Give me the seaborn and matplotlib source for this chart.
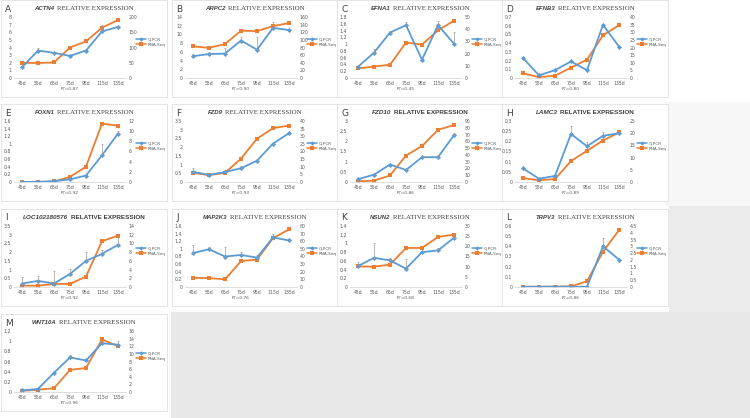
import numpy as np
import matplotlib
matplotlib.use("Agg")
import matplotlib.pyplot as plt
from matplotlib.lines import Line2D
from matplotlib.patches import Rectangle
import seaborn as sns

sns.set_style("white")
plt.rcParams["font.family"] = ["DejaVu Sans"]

days = ["45d", "55d", "65d", "75d", "95d", "115d", "135d"]
letters = list("ABCDEFGHIJKLM")
genes = ["ACTN4", "ARPC2", "EFNA1", "EFNB3", "FOXN1", "FZD9", "FZD10",
         "LAMC3", "LOC102180576", "MAP2K3", "NSUN2", "TRPV3", "WNT10A"]
r2_values = [0.87, 0.90, 0.45, 0.80, 0.92, 0.93, 0.86, 0.89, 0.92, 0.76, 0.68, 0.86, 0.96]
# sans bold titles (G, H, I), the rest use a serif for "RELATIVE EXPRESSION"
bold_titles = [False, False, False, False, False, False, True, True, True, False, False, False, False]

# axis ranges (tick labels)
left_max = [8, 14, 1.8, 0.7, 1.6, 3.5, 3, 0.3, 3.5, 1.6, 1.4, 0.6, 1.2]
left_step = [1, 2, 0.2, 0.1, 0.2, 0.5, 0.5, 0.05, 0.5, 0.2, 0.2, 0.1, 0.2]
right_max = [200, 160, 50, 40, 12, 40, 90, 25, 14, 80, 30, 4.5, 16]
right_step = [50, 20, 10, 5, 2, 5, 10, 5, 2, 10, 5, 0.5, 2]

# Q-PCR (left axis), error (upper only), RNA-Seq (right axis)
actn4_qpcr = [1.4, 3.6, 3.3, 2.9, 3.6, 6.1, 6.7]
actn4_err = [0.05, 0.3, 0.1, 0, 0, 0.9, 0.1]
actn4_rnaseq = [50, 49, 51, 100, 120, 165, 190]

arpc2_qpcr = [5.0, 5.5, 5.6, 8.6, 6.5, 11.5, 11.0]
arpc2_err = [0.6, 0.5, 1.2, 0.8, 2.8, 1.4, 0]
arpc2_rnaseq = [83, 79, 89, 124, 123, 136, 144]

efna1_qpcr = [0.33, 0.75, 1.34, 1.56, 0.54, 1.56, 1.01]
efna1_err = [0, 0.1, 0.05, 0.1, 0, 0.12, 0.35]
efna1_rnaseq = [7.8, 9.4, 10.9, 29, 27.4, 39, 47]

efnb3_qpcr = [0.23, 0.03, 0.09, 0.19, 0.09, 0.61, 0.36]
efnb3_err = [0, 0, 0, 0, 0, 0, 0]
efnb3_rnaseq = [3.0, 0.6, 1.5, 6.8, 12, 28, 34.6]

foxn1_qpcr = [0.0, 0.005, 0.02, 0.07, 0.17, 0.7, 1.27]
foxn1_err = [0, 0, 0, 0, 0, 0.3, 0.08]
foxn1_rnaseq = [0.0, 0.0, 0.1, 1.0, 3.0, 11.5, 11.06]

fzd9_qpcr = [0.58, 0.41, 0.57, 0.79, 1.22, 2.2, 2.8]
fzd9_err = [0.2, 0, 0.1, 0.1, 0.1, 0.05, 0]
fzd9_rnaseq = [6.0, 4.5, 6.0, 15.3, 28.4, 35.3, 37]

fzd10_qpcr = [0.14, 0.36, 0.86, 0.59, 1.22, 1.22, 2.3]
fzd10_err = [0, 0, 0, 0.05, 0.05, 0.1, 0.1]
fzd10_rnaseq = [1.0, 2.0, 9.6, 39, 53, 77, 84]

lamc3_qpcr = [0.067, 0.016, 0.03, 0.236, 0.176, 0.227, 0.24]
lamc3_err = [0, 0, 0, 0.04, 0.02, 0.02, 0.01]
lamc3_rnaseq = [1.6, 0.7, 1.2, 8.6, 12.8, 17, 20.3]

loc_qpcr = [0.2, 0.35, 0.2, 0.75, 1.5, 1.9, 2.42]
loc_err = [0.4, 0.3, 0.7, 0.3, 0.5, 0.25, 0.45]
loc_rnaseq = [0.3, 0.3, 0.7, 0.7, 2.4, 10.5, 11.8]

map2k3_qpcr = [0.89, 0.99, 0.8, 0.84, 0.77, 1.3, 1.22]
map2k3_err = [0.21, 0.05, 0.26, 0.07, 0.06, 0.1, 0]
map2k3_rnaseq = [12, 11.7, 10, 34, 36, 64, 75.5]

nsun2_qpcr = [0.48, 0.67, 0.61, 0.42, 0.8, 0.84, 1.13]
nsun2_err = [0.1, 0.33, 0.05, 0.23, 0, 0.05, 0.05]
nsun2_rnaseq = [10.1, 10, 11, 19.2, 19.2, 24.6, 25.8]

trpv3_qpcr = [0.003, 0.003, 0.003, 0.003, 0.003, 0.4, 0.27]
trpv3_err = [0, 0, 0, 0, 0, 0.085, 0]
trpv3_rnaseq = [0.02, 0.02, 0.03, 0.05, 0.42, 2.6, 4.2]

wnt10a_qpcr = [0.03, 0.06, 0.38, 0.68, 0.62, 0.96, 0.93]
wnt10a_err = [0, 0, 0, 0.05, 0, 0.05, 0.08]
wnt10a_rnaseq = [0.3, 0.6, 1.0, 5.8, 6.3, 13.8, 12.0]

qpcr_series = [actn4_qpcr, arpc2_qpcr, efna1_qpcr, efnb3_qpcr, foxn1_qpcr, fzd9_qpcr,
               fzd10_qpcr, lamc3_qpcr, loc_qpcr, map2k3_qpcr, nsun2_qpcr, trpv3_qpcr, wnt10a_qpcr]
err_series = [actn4_err, arpc2_err, efna1_err, efnb3_err, foxn1_err, fzd9_err,
              fzd10_err, lamc3_err, loc_err, map2k3_err, nsun2_err, trpv3_err, wnt10a_err]
rnaseq_series = [actn4_rnaseq, arpc2_rnaseq, efna1_rnaseq, efnb3_rnaseq, foxn1_rnaseq, fzd9_rnaseq,
                 fzd10_rnaseq, lamc3_rnaseq, loc_rnaseq, map2k3_rnaseq, nsun2_rnaseq, trpv3_rnaseq,
                 wnt10a_rnaseq]

BLUE = "#5B9BD5"
ORANGE = "#ED7D31"
TXT = "#595959"

W, H = 750, 418
fig = plt.figure(figsize=(7.5, 4.18), dpi=100)
fig.patch.set_facecolor("white")


def fx(px):
    return px / W


def fy(py):
    return 1 - py / H


def grey_box(x, y, w, h, color):
    fig.patches.append(Rectangle((fx(x), fy(y + h)), w / W, h / H, transform=fig.transFigure,
                                 facecolor=color, edgecolor="none", zorder=-2))


# background areas outside the panels
grey_box(665, 102, 85, 104, "#f7f7f7")
grey_box(669, 206, 81, 108, "#ebebeb")
grey_box(171, 312, 579, 106, "#e8e8e8")

col_x = [1, 172, 337, 502]
row_y = [0, 104, 209, 314]
renderer = fig.canvas.get_renderer()


def fmt(v):
    return f"{round(v, 3):g}"


for i, gene in enumerate(genes):
    x0 = col_x[i % 4]
    y0 = row_y[i // 4]
    fig.patches.append(Rectangle((fx(x0), fy(y0 + 97)), 166 / W, 97 / H, transform=fig.transFigure,
                                 facecolor="white", edgecolor="#d9d9d9", lw=0.5, zorder=-1))

    ax = fig.add_axes([fx(x0 + 13), fy(y0 + 78), 112 / W, 61 / H])
    ax2 = ax.twinx()
    pos = np.arange(len(days))

    sns.lineplot(x=pos, y=rnaseq_series[i], ax=ax2, color=ORANGE, marker="s", markersize=2.6,
                 markeredgewidth=0, linewidth=1.3)
    sns.lineplot(x=pos, y=qpcr_series[i], ax=ax, color=BLUE, marker="D", markersize=2.6,
                 markeredgewidth=0, linewidth=1.3)
    err = np.array(err_series[i])
    vals = np.array(qpcr_series[i])
    m = err > 0
    ax.errorbar(pos[m], vals[m], yerr=[np.zeros(m.sum()), err[m]], fmt="none",
                ecolor="#9a9a9a", elinewidth=0.5, capsize=1.0, capthick=0.5)
    ax.set_zorder(ax2.get_zorder() + 1)
    ax.patch.set_visible(False)

    ax.set_xlim(-0.5, 6.5)
    ax.set_ylim(0, left_max[i])
    ax2.set_ylim(0, right_max[i])
    lt = np.arange(0, left_max[i] + left_step[i] / 2, left_step[i])
    rt = np.arange(0, right_max[i] + right_step[i] / 2, right_step[i])
    ax.set_yticks(lt)
    ax.set_yticklabels([fmt(v) for v in lt])
    ax2.set_yticks(rt)
    ax2.set_yticklabels([fmt(v) for v in rt])
    ax.set_xticks(pos)
    ax.set_xticklabels(days)
    for a in (ax, ax2):
        a.set_xlabel("")
        a.set_ylabel("")
        a.tick_params(axis="both", length=0, labelsize=3.3, labelcolor=TXT, pad=2)
        for s in a.spines.values():
            s.set_visible(False)
    ax.spines["bottom"].set_visible(True)
    ax.spines["bottom"].set_color("#d9d9d9")
    ax.spines["bottom"].set_linewidth(0.6)

    handles = [Line2D([], [], color=BLUE, marker="D", markersize=2.2, lw=1.1, markeredgewidth=0),
               Line2D([], [], color=ORANGE, marker="s", markersize=2.2, lw=1.1, markeredgewidth=0)]
    ax2.legend(handles, ["Q-PCR", "RNA-Seq"], loc="center left",
               bbox_to_anchor=(fx(x0 + 133), fy(y0 + 42)), bbox_transform=fig.transFigure,
               frameon=False, fontsize=3, handlelength=2.4, handletextpad=0.3,
               labelspacing=0.25, borderpad=0, labelcolor=TXT)

    fig.text(fx(x0 + 69), fy(y0 + 89), f"R\u00b2={r2_values[i]:.2f}", ha="center", va="center",
             size=3.2, color=TXT)
    fig.text(fx(x0 + 4), fy(y0 + 9), letters[i], ha="left", va="center", size=6.5, color="#404040")

    # title: italic gene name + "RELATIVE EXPRESSION"
    if bold_titles[i]:
        t1 = fig.text(0, 0, gene, size=4.6, fontweight="bold", fontstyle="italic",
                      family="Liberation Sans", color="#404040", va="center")
        t2 = fig.text(0, 0, "RELATIVE EXPRESSION", size=4.6, fontweight="bold",
                      family="Liberation Sans", color="#404040", va="center")
    else:
        t1 = fig.text(0, 0, gene, size=4.3, fontweight="bold", fontstyle="italic",
                      family="Liberation Sans", color="#404040", va="center")
        t2 = fig.text(0, 0, "RELATIVE EXPRESSION", size=5.0, family="Liberation Serif",
                      color="#404040", va="center")
    w1 = t1.get_window_extent(renderer).width
    w2 = t2.get_window_extent(renderer).width
    gap = 2.5
    left = x0 + 83 - (w1 + gap + w2) / 2
    t1.set_position((fx(left), fy(y0 + 9)))
    t2.set_position((fx(left + w1 + gap), fy(y0 + 9)))

fig.savefig("out.png", dpi=100, facecolor=fig.get_facecolor())
